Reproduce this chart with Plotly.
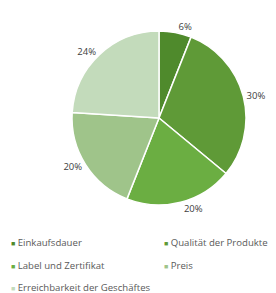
import plotly.graph_objects as go

labels = ["Einkaufsdauer", "Qualität der Produkte", "Label und Zertifikat", "Preis",
          "Erreichbarkeit der Geschäftes"]
values = [6, 30, 20, 20, 24]
colors = ["#4f8a2c", "#5f9a37", "#6bae42", "#9fc48a", "#c3dbbb"]
# legend layout: entries fill two columns, row by row
legend_cols = 2

# the page body adds an 8px offset, so the figure is drawn 8px smaller
W, H = 268, 285
cx, cy, r = 151, 110, 87

fig = go.Figure(go.Pie(
    labels=labels, values=values, sort=False, direction="clockwise", rotation=0,
    marker=dict(colors=colors, line=dict(color="white", width=1.5)),
    textinfo="percent", texttemplate="%{percent:.0%}", textposition="outside",
    textfont=dict(family="Open Sans", size=9.5, color="#404040"),
    domain=dict(x=[(cx - r) / W, (cx + r) / W], y=[(H - cy - r) / H, (H - cy + r) / H]),
    showlegend=False,
))

col_x = [1, 154]
row_y = [234, 257.5, 279]
for i, (lab, col) in enumerate(zip(labels, colors)):
    rr, cc = divmod(i, legend_cols)
    fig.add_annotation(
        x=col_x[cc] / W, y=1 - row_y[rr] / H, xref="paper", yref="paper",
        xanchor="left", yanchor="middle", showarrow=False,
        text=f"<span style='color:{col};font-size:7px'>\u25a0</span> {lab}",
        font=dict(family="Open Sans", size=9.6, color="#595959"),
    )

fig.update_layout(
    width=W, height=H, margin=dict(l=0, r=0, t=0, b=0),
    paper_bgcolor="white",
    font=dict(family="Open Sans", size=10, color="#595959"),
)
fig.write_html("out.html")
